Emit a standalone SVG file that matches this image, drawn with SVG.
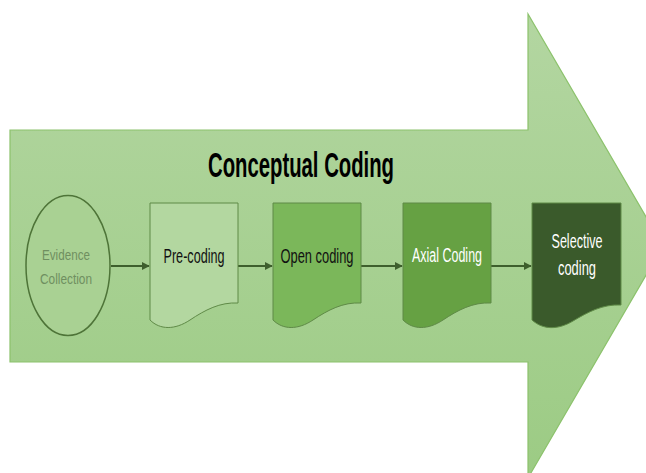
<svg xmlns="http://www.w3.org/2000/svg" width="646" height="473" viewBox="0 0 646 473">
<defs>
<linearGradient id="bg" x1="0" y1="0" x2="0" y2="1">
<stop offset="0" stop-color="#b3d6a1"/>
<stop offset="1" stop-color="#9ccb84"/>
</linearGradient>
<marker id="ah" viewBox="0 0 10 10" refX="9" refY="5" markerWidth="4" markerHeight="4" orient="auto">
<path d="M0,0 L10,5 L0,10 Z" fill="#3e5f2d"/>
</marker>
<style>
.t{font-family:"Liberation Sans Narrow","Liberation Sans",Arial,sans-serif;text-anchor:middle;}
.doc{stroke:#5f8a47;stroke-width:1;}
.lbl{font-size:20px;}
.conn{stroke:#3e5f2d;stroke-width:2;fill:none;marker-end:url(#ah);}
</style>
</defs>
<rect width="646" height="473" fill="#ffffff"/>
<g id="big-arrow">
<path d="M10,130 H528 V14 L663,246 L528,478 V362 H10 Z" fill="url(#bg)" stroke="#8cc26c" stroke-width="1.2"/>
</g>
<g id="title">
<text class="t" x="301" y="177" font-size="35" font-weight="bold" fill="#000" textLength="186" lengthAdjust="spacingAndGlyphs">Conceptual Coding</text>
</g>
<g id="connectors">
<line class="conn" x1="111" y1="266" x2="149" y2="266"/>
<line class="conn" x1="238" y1="266" x2="272" y2="266"/>
<line class="conn" x1="361" y1="266" x2="402" y2="266"/>
<line class="conn" x1="491" y1="266" x2="531" y2="266"/>
</g>
<g id="evidence">
<ellipse cx="68" cy="265.5" rx="42" ry="70" fill="#a9d193" stroke="#4e7438" stroke-width="1.5"/>
<text class="t" x="66" y="260" font-size="15" fill="#6f8f60" textLength="48" lengthAdjust="spacingAndGlyphs">Evidence</text>
<text class="t" x="66" y="284" font-size="15" fill="#6f8f60" textLength="52" lengthAdjust="spacingAndGlyphs">Collection</text>
</g>
<g id="precoding">
<path class="doc" d="M150,203 H238 V303 C220,302 205,310 190,320 C175,330 160,330 150,320 Z" fill="#b3d7a0"/>
<text class="t lbl" x="194" y="263" fill="#111" textLength="61" lengthAdjust="spacingAndGlyphs">Pre-coding</text>
</g>
<g id="opencoding">
<path class="doc" d="M273,203 H361 V303 C343,302 328,310 313,320 C298,330 283,330 273,320 Z" fill="#7bb75a"/>
<text class="t lbl" x="317" y="263" fill="#111" textLength="73" lengthAdjust="spacingAndGlyphs">Open coding</text>
</g>
<g id="axialcoding">
<path class="doc" d="M403,203 H491 V303 C473,302 458,310 443,320 C428,330 413,330 403,320 Z" fill="#66a143"/>
<text class="t lbl" x="447" y="262" fill="#fff" textLength="70" lengthAdjust="spacingAndGlyphs">Axial Coding</text>
</g>
<g id="selectivecoding">
<path class="doc" d="M532,203 H621 V305 C603,304 588,312 573,321 C558,330 543,330 532,320 Z" fill="#3a5a2b" stroke="#3a5a2b"/>
<text class="t lbl" x="577" y="248" fill="#fff" textLength="51" lengthAdjust="spacingAndGlyphs">Selective</text>
<text class="t lbl" x="577" y="275" fill="#fff" textLength="38" lengthAdjust="spacingAndGlyphs">coding</text>
</g>
</svg>
